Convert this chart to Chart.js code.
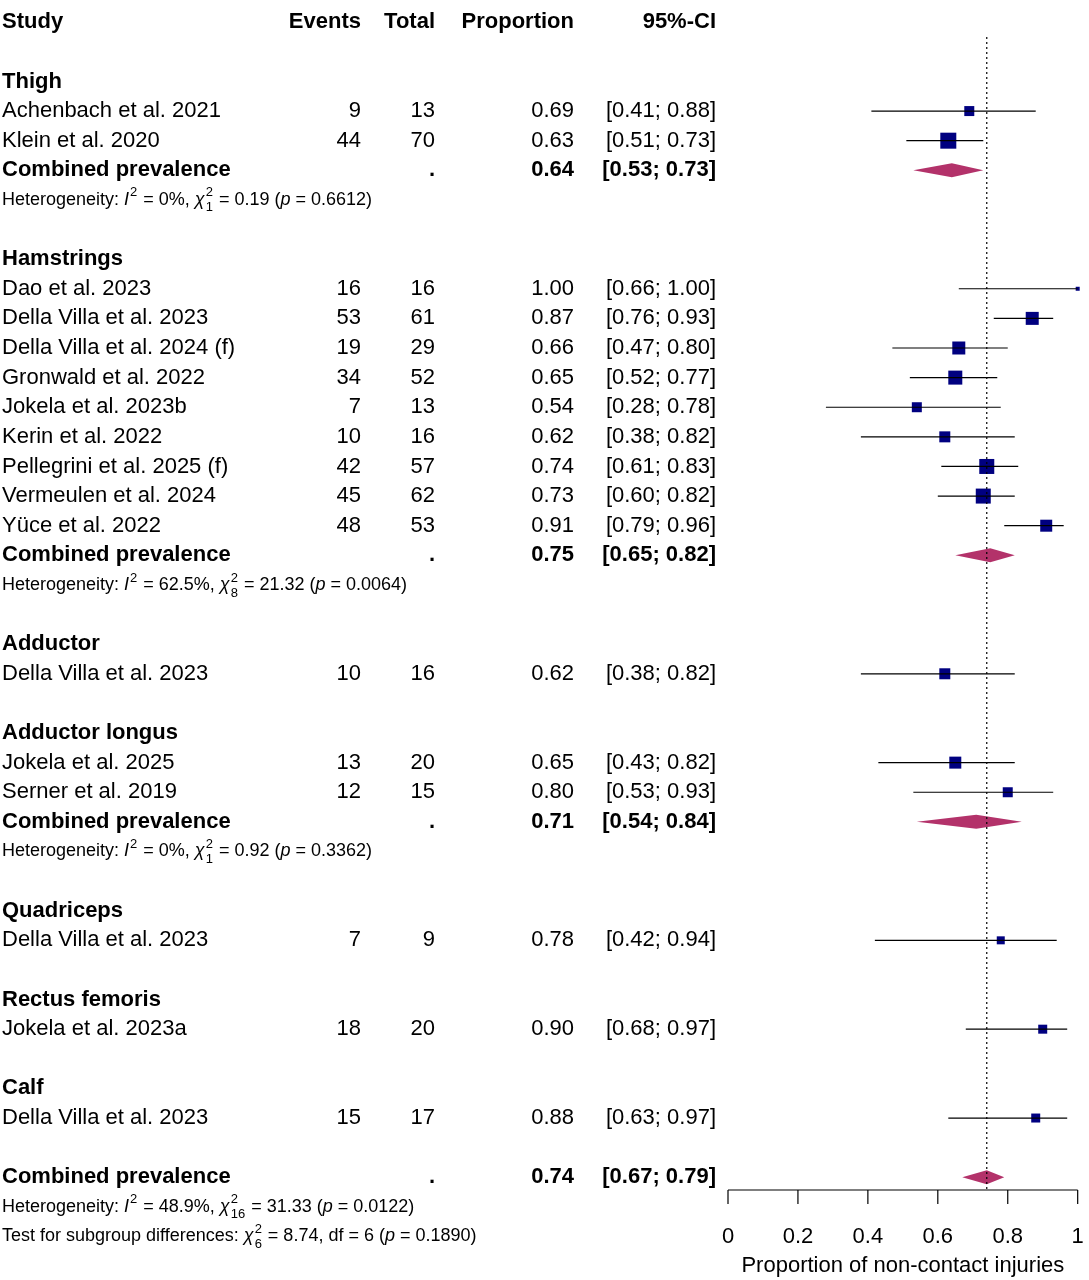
<!DOCTYPE html>
<html>
<head>
<meta charset="utf-8">
<script src="https://cdn.jsdelivr.net/npm/chart.js@4"></script>
<style>
  body { margin: 0; background: #ffffff; }
  #wrap { width: 1089px; height: 1280px; }
</style>
</head>
<body>
<div id="wrap"><canvas id="forest"></canvas></div>
<script>
// row index of each line in the table (0 = header)
const studyNames = ['Achenbach et al. 2021', 'Klein et al. 2020', 'Dao et al. 2023', 'Della Villa et al. 2023',
  'Della Villa et al. 2024 (f)', 'Gronwald et al. 2022', 'Jokela et al. 2023b', 'Kerin et al. 2022',
  'Pellegrini et al. 2025 (f)', 'Vermeulen et al. 2024', 'Yüce et al. 2022', 'Della Villa et al. 2023',
  'Jokela et al. 2025', 'Serner et al. 2019', 'Della Villa et al. 2023', 'Jokela et al. 2023a', 'Della Villa et al. 2023'];
const studyRows = [3, 4, 9, 10, 11, 12, 13, 14, 15, 16, 17, 22, 25, 26, 31, 34, 37];
const events = [9, 44, 16, 53, 19, 34, 7, 10, 42, 45, 48, 10, 13, 12, 7, 18, 15];
const totals = [13, 70, 16, 61, 29, 52, 13, 16, 57, 62, 53, 16, 20, 15, 9, 20, 17];
const estimates = [0.69, 0.63, 1.00, 0.87, 0.66, 0.65, 0.54, 0.62, 0.74, 0.73, 0.91, 0.62, 0.65, 0.80, 0.78, 0.90, 0.88];
const ciLow = [0.41, 0.51, 0.66, 0.76, 0.47, 0.52, 0.28, 0.38, 0.61, 0.60, 0.79, 0.38, 0.43, 0.53, 0.42, 0.68, 0.63];
const ciHigh = [0.88, 0.73, 1.00, 0.93, 0.80, 0.77, 0.78, 0.82, 0.83, 0.82, 0.96, 0.82, 0.82, 0.93, 0.94, 0.97, 0.97];
const boxSizes = [10, 16, 4, 13, 13, 14, 10, 11, 15, 15, 12, 11, 12, 10, 8, 9, 9];

const groupNames = ['Thigh', 'Hamstrings', 'Adductor', 'Adductor longus', 'Quadriceps', 'Rectus femoris', 'Calf'];
const groupRows = [2, 8, 21, 24, 30, 33, 36];

const pooledRows = [5, 18, 27, 39];
const pooledEst = [0.64, 0.75, 0.71, 0.74];
const pooledLow = [0.53, 0.65, 0.54, 0.67];
const pooledHigh = [0.73, 0.82, 0.84, 0.79];

const hetRows = [6, 19, 28, 40];
const hetI2 = ['0%', '62.5%', '0%', '48.9%'];
const hetDf = ['1', '8', '1', '16'];
const hetChi = ['0.19', '21.32', '0.92', '31.33'];
const hetP = ['0.6612', '0.0064', '0.3362', '0.0122'];

const xTicks = [0, 0.2, 0.4, 0.6, 0.8, 1];
const xTickLabels = ['0', '0.2', '0.4', '0.6', '0.8', '1'];
const overallRef = 0.74;

const FONT = '"Liberation Sans", Arial, sans-serif';
const DIAMOND = '#B3326A';
const BOX = '#000080';

const ciSets = studyNames.map((n, i) => ({
  data: [{ x: ciLow[i], y: studyRows[i] }, { x: ciHigh[i], y: studyRows[i] }],
  showLine: true, borderColor: '#000000', borderWidth: 1.2, pointRadius: 0, clip: false
}));

const boxSet = {
  data: estimates.map((e, i) => ({ x: e, y: studyRows[i] })),
  pointStyle: 'rect', pointRadius: boxSizes.map(s => s / Math.SQRT2),
  backgroundColor: BOX, borderColor: BOX, borderWidth: 0, clip: false
};

const tablePlugin = {
  id: 'table',
  afterDraw(chart) {
    const ctx = chart.ctx, xs = chart.scales.x, ys = chart.scales.y, ca = chart.chartArea;
    const py = r => ys.getPixelForValue(r);
    ctx.save();
    ctx.textBaseline = 'middle';
    ctx.fillStyle = '#000';
    const txt = (s, x, y, align, bold, size) => {
      ctx.font = (bold ? 'bold ' : '') + (size || 22) + 'px ' + FONT;
      ctx.textAlign = align;
      ctx.fillText(s, x, y);
    };
    // header
    const h = py(0);
    txt('Study', 2, h, 'left', true);
    txt('Events', 361, h, 'right', true);
    txt('Total', 435, h, 'right', true);
    txt('Proportion', 574, h, 'right', true);
    txt('95%-CI', 716, h, 'right', true);
    groupNames.forEach((g, i) => txt(g, 2, py(groupRows[i]), 'left', true));
    studyNames.forEach((s, i) => {
      const y = py(studyRows[i]);
      txt(s, 2, y, 'left');
      txt(String(events[i]), 361, y, 'right');
      txt(String(totals[i]), 435, y, 'right');
      txt(estimates[i].toFixed(2), 574, y, 'right');
      txt('[' + ciLow[i].toFixed(2) + '; ' + ciHigh[i].toFixed(2) + ']', 716, y, 'right');
    });
    pooledRows.forEach((r, i) => {
      const y = py(r);
      txt('Combined prevalence', 2, y, 'left', true);
      txt('.', 435, y, 'right', true);
      txt(pooledEst[i].toFixed(2), 574, y, 'right', true);
      txt('[' + pooledLow[i].toFixed(2) + '; ' + pooledHigh[i].toFixed(2) + ']', 716, y, 'right', true);
      // diamond
      const hh = 7;
      ctx.beginPath();
      ctx.moveTo(xs.getPixelForValue(pooledLow[i]), y);
      ctx.lineTo(xs.getPixelForValue(pooledEst[i]), y - hh);
      ctx.lineTo(xs.getPixelForValue(pooledHigh[i]), y);
      ctx.lineTo(xs.getPixelForValue(pooledEst[i]), y + hh);
      ctx.closePath();
      ctx.fillStyle = DIAMOND;
      ctx.fill();
      ctx.fillStyle = '#000';
    });
    // heterogeneity lines with italic / super / subscripts
    const runs = (parts, x, y) => {
      ctx.textAlign = 'left';
      parts.forEach(p => {
        if (p.sup !== undefined) {
          ctx.font = '13px ' + FONT;
          ctx.fillText(p.sup, x + 1, y - 7);
          let w = ctx.measureText(p.sup).width;
          if (p.sub !== undefined) { ctx.fillText(p.sub, x + 1, y + 8); w = Math.max(w, ctx.measureText(p.sub).width); }
          x += w + 2;
        } else {
          ctx.font = (p.it ? 'italic ' : '') + '18px ' + FONT;
          ctx.fillText(p.t, x, y);
          x += ctx.measureText(p.t).width;
        }
      });
    };
    hetRows.forEach((r, i) => {
      runs([{ t: 'Heterogeneity: ' }, { t: 'I', it: true }, { sup: '2' }, { t: ' = ' + hetI2[i] + ', ' },
        { t: 'χ', it: true }, { sup: '2', sub: hetDf[i] }, { t: ' = ' + hetChi[i] + ' (' },
        { t: 'p', it: true }, { t: ' = ' + hetP[i] + ')' }], 2, py(r));
    });
    runs([{ t: 'Test for subgroup differences: ' }, { t: 'χ', it: true }, { sup: '2', sub: '6' },
      { t: ' = 8.74, df = 6 (' }, { t: 'p', it: true }, { t: ' = 0.1890)' }], 2, py(41));
    // reference dotted line
    const rx = xs.getPixelForValue(overallRef);
    ctx.strokeStyle = '#000';
    ctx.lineWidth = 1.2;
    ctx.setLineDash([2, 3]);
    ctx.beginPath();
    ctx.moveTo(rx, py(0.5));
    ctx.lineTo(rx, ca.bottom);
    ctx.stroke();
    ctx.setLineDash([]);
    // x axis
    const ay = ca.bottom;
    ctx.beginPath();
    ctx.moveTo(xs.getPixelForValue(0), ay);
    ctx.lineTo(xs.getPixelForValue(1), ay);
    xTicks.forEach(t => {
      ctx.moveTo(xs.getPixelForValue(t), ay);
      ctx.lineTo(xs.getPixelForValue(t), ay + 14);
    });
    ctx.stroke();
    xTicks.forEach((t, i) => txt(xTickLabels[i], xs.getPixelForValue(t), ay + 47, 'center'));
    txt('Proportion of non-contact injuries', (ca.left + ca.right) / 2, ay + 76, 'center');
    ctx.restore();
  }
};

new Chart(document.getElementById('forest').getContext('2d'), {
  type: 'scatter',
  data: { datasets: [...ciSets, boxSet] },
  options: {
    responsive: true,
    maintainAspectRatio: false,
    animation: false,
    layout: { padding: { left: 728, right: 8, top: 0, bottom: 90 } },
    plugins: { legend: { display: false }, tooltip: { enabled: false } },
    scales: {
      x: { type: 'linear', min: 0, max: 1, display: false },
      y: { type: 'linear', min: -0.368, max: 39.43, reverse: true, display: false }
    }
  },
  plugins: [tablePlugin]
});
</script>
</body>
</html>
